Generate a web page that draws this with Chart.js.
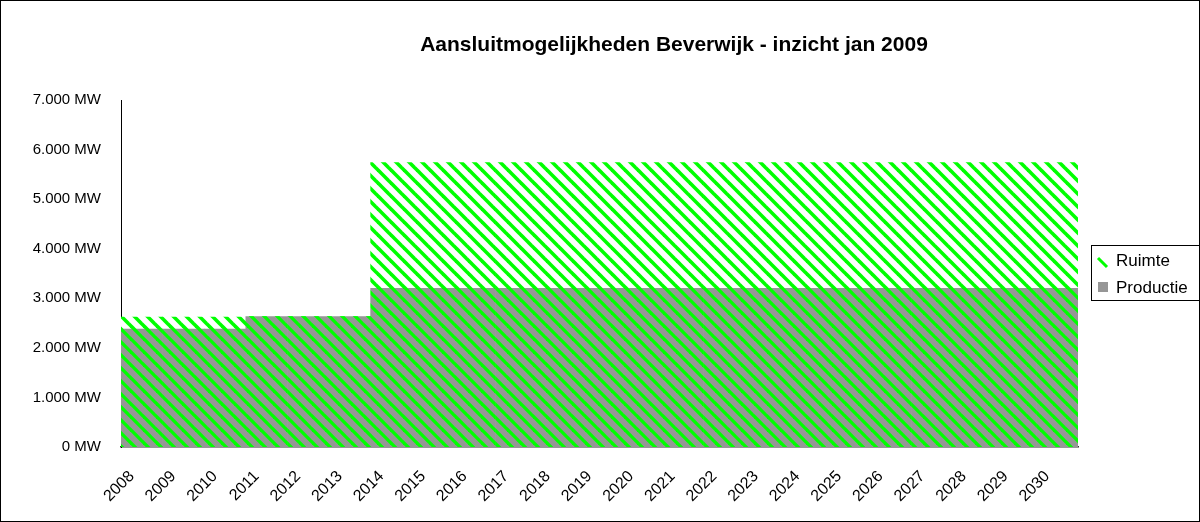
<!DOCTYPE html>
<html>
<head>
<meta charset="utf-8">
<script src="https://cdn.jsdelivr.net/npm/chart.js@4/dist/chart.umd.min.js"></script>
<style>
  html, body { margin: 0; padding: 0; background: #fff; }
  #wrap { width: 1200px; height: 522px; }
</style>
</head>
<body>
<div id="wrap"><canvas id="chart" width="1200" height="522"></canvas></div>
<script>
const years = ["2008", "2009", "2010", "2011", "2012", "2013", "2014", "2015", "2016",
  "2017", "2018", "2019", "2020", "2021", "2022", "2023", "2024", "2025", "2026",
  "2027", "2028", "2029", "2030"];
// MW
const productie = [2380, 2380, 2380, 2630, 2630, 2630, 3200, 3200, 3200, 3200, 3200,
  3200, 3200, 3200, 3200, 3200, 3200, 3200, 3200, 3200, 3200, 3200, 3200];
const ruimte = [240, 240, 240, 0, 0, 0, 2540, 2540, 2540, 2540, 2540, 2540, 2540,
  2540, 2540, 2540, 2540, 2540, 2540, 2540, 2540, 2540, 2540];
const yTicks = [0, 1000, 2000, 3000, 4000, 5000, 6000, 7000];
const titel = "Aansluitmogelijkheden Beverwijk - inzicht jan 2009";

const GREEN = "#00ff00";
const GREY = "#969696";
const FONT = "'Liberation Sans', Arial, sans-serif";
const P = 13; // stripe period

// diagonal stripes, top-left to bottom-right
function stripes(bg, w) {
  const c = document.createElement("canvas");
  c.width = P; c.height = P;
  const g = c.getContext("2d");
  g.fillStyle = bg;
  g.fillRect(0, 0, P, P);
  g.strokeStyle = GREEN;
  g.lineWidth = w;
  for (let k = -P; k <= P; k += P) {
    g.beginPath();
    g.moveTo(k - 2, -2);
    g.lineTo(k + P + 2, P + 2);
    g.stroke();
  }
  return g.createPattern(c, "repeat");
}

function fmt(v) {
  return String(v).replace(/\B(?=(\d{3})+(?!\d))/g, ".") + " MW";
}

// outer frame, title (off-centre like the original) and legend box
const frame = {
  id: "frame",
  afterDraw(chart) {
    const ctx = chart.ctx;
    ctx.save();
    ctx.strokeStyle = "#000";
    ctx.lineWidth = 1;
    ctx.strokeRect(0.5, 0.5, chart.width - 1, chart.height - 1);

    ctx.fillStyle = "#000";
    ctx.textBaseline = "middle";
    ctx.textAlign = "center";
    ctx.font = "bold 21px " + FONT;
    ctx.fillText(titel, 674, 45);

    ctx.textAlign = "left";
    ctx.strokeRect(1091.5, 245.5, 108, 55);
    ctx.font = "17px " + FONT;
    ctx.fillText(chart.data.datasets[1].label, 1116, 261);
    ctx.fillText(chart.data.datasets[0].label, 1116, 288);

    ctx.strokeStyle = GREEN;
    ctx.lineWidth = 3;
    ctx.beginPath();
    ctx.moveTo(1098, 258);
    ctx.lineTo(1107, 267);
    ctx.stroke();
    ctx.fillStyle = GREY;
    ctx.fillRect(1098, 282, 10, 10);
    ctx.restore();
  }
};

Chart.defaults.font.family = FONT;
Chart.defaults.color = "#000";

new Chart(document.getElementById("chart"), {
  type: "bar",
  data: {
    labels: years,
    datasets: [
      {
        label: "Productie",
        data: productie,
        backgroundColor: stripes(GREY, 3.3),
        borderWidth: 0
      },
      {
        label: "Ruimte",
        data: ruimte,
        backgroundColor: stripes("#ffffff", 3.6),
        borderWidth: 0
      }
    ]
  },
  options: {
    responsive: false,
    animation: false,
    datasets: { bar: { categoryPercentage: 1.0, barPercentage: 1.0 } },
    layout: { padding: { top: 100, right: 122, bottom: 0, left: 0 } },
    plugins: {
      title: { display: false },
      legend: { display: false },
      tooltip: { enabled: false }
    },
    scales: {
      x: {
        stacked: true,
        grid: { display: false },
        border: { display: true, color: "#333", width: 1.5 },
        ticks: {
          font: { size: 16 }, minRotation: 45, maxRotation: 45, autoSkip: false,
          padding: 12, labelOffset: -10
        },
        afterFit(s) { s.height = 75; }
      },
      y: {
        stacked: true,
        min: 0,
        max: 7000,
        afterBuildTicks(s) { s.ticks = yTicks.map(v => ({ value: v })); },
        grid: { display: false },
        border: { display: true, color: "#000", width: 1 },
        ticks: { font: { size: 15 }, padding: 12, callback: v => fmt(v) },
        afterFit(s) { s.width = 121; }
      }
    }
  },
  plugins: [frame]
});
</script>
</body>
</html>
